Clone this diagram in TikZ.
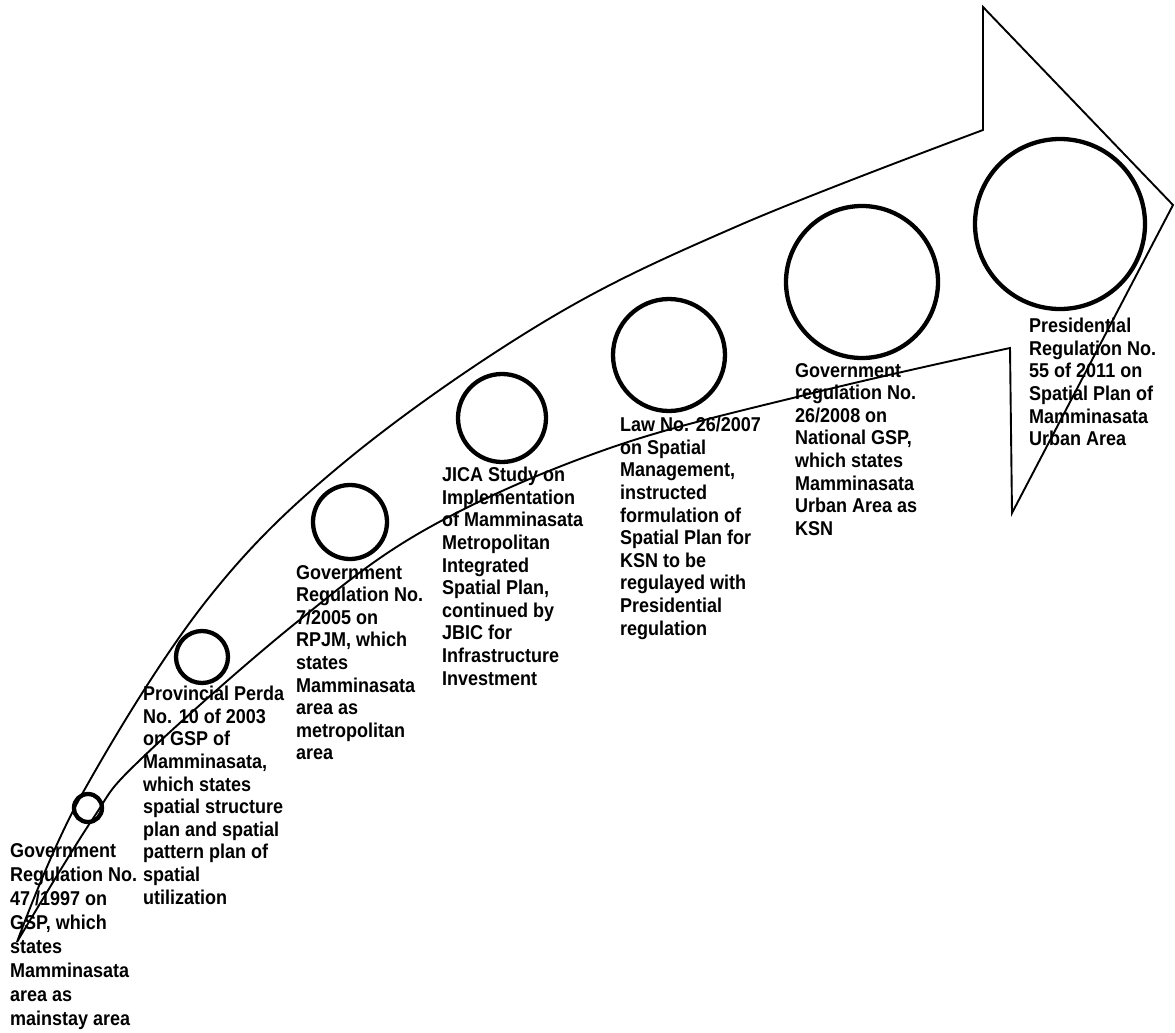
\documentclass[tikz,border=0pt]{standalone}
\usepackage{fontspec}
\setmainfont{Liberation Sans}[FakeStretch=0.9]
\begin{document}
\begin{tikzpicture}[x=1pt,y=-1pt,
  outline/.style={line width=1.9pt, line join=miter},
  stage/.style={circle, draw, line width=4.3pt, inner sep=0pt},
  caption/.style={anchor=north west, inner sep=0pt, align=left,
    font=\fontsize{20}{22.6}\selectfont\bfseries}]
\useasboundingbox (0,0) rectangle (1175,1033);

% curved timeline arrow
\draw[outline]
  plot[smooth, tension=0.6] coordinates {(17,942) (81,796) (207,600) (347,460) (547,320) (740,225) (983,130)}
  -- (983,7) -- (1173,205) -- (1012,513) -- (1010,348)
  -- plot[smooth, tension=0.6] coordinates {(1010,348) (817,392) (610,448) (430,527) (297,622) (140,760) (92,820) (17,942)}
  -- cycle;

% milestones, growing along the arrow
\node[stage, minimum size=28]  (c1997) at (88,808)  {};
\node[stage, minimum size=52]  (c2003) at (202,657) {};
\node[stage, minimum size=74]  (c2005) at (350,522) {};
\node[stage, minimum size=88]  (cjica) at (502,418) {};
\node[stage, minimum size=112] (c2007) at (669,355) {};
\node[stage, minimum size=152] (c2008) at (862,282) {};
\node[stage, minimum size=170] (c2011) at (1060,224) {};

% captions
\node[caption, font=\fontsize{20}{24}\selectfont\bfseries] (t1997) at (10,843) {Government\\Regulation No.\\47 /1997 on\\GSP, which\\states\\Mamminasata\\area as\\mainstay area};
\node[caption] (t2003) at (143,686) {Provincial Perda\\No. 10 of 2003\\on GSP of\\Mamminasata,\\which states\\spatial structure\\plan and spatial\\pattern plan of\\spatial\\utilization};
\node[caption] (t2005) at (296,565) {Government\\Regulation No.\\7/2005 on\\RPJM, which\\states\\Mamminasata\\area as\\metropolitan\\area};
\node[caption] (tjica) at (442,467) {JICA Study on\\Implementation\\of Mamminasata\\Metropolitan\\Integrated\\Spatial Plan,\\continued by\\JBIC for\\Infrastructure\\Investment};
\node[caption] (t2007) at (620,417) {Law No. 26/2007\\on Spatial\\Management,\\instructed\\formulation of\\Spatial Plan for\\KSN to be\\regulayed with\\Presidential\\regulation};
\node[caption] (t2008) at (795,363) {Government\\regulation No.\\26/2008 on\\National GSP,\\which states\\Mamminasata\\Urban Area as\\KSN};
\node[caption] (t2011) at (1029,318) {Presidential\\Regulation No.\\55 of 2011 on\\Spatial Plan of\\Mamminasata\\Urban Area};
\end{tikzpicture}
\end{document}
